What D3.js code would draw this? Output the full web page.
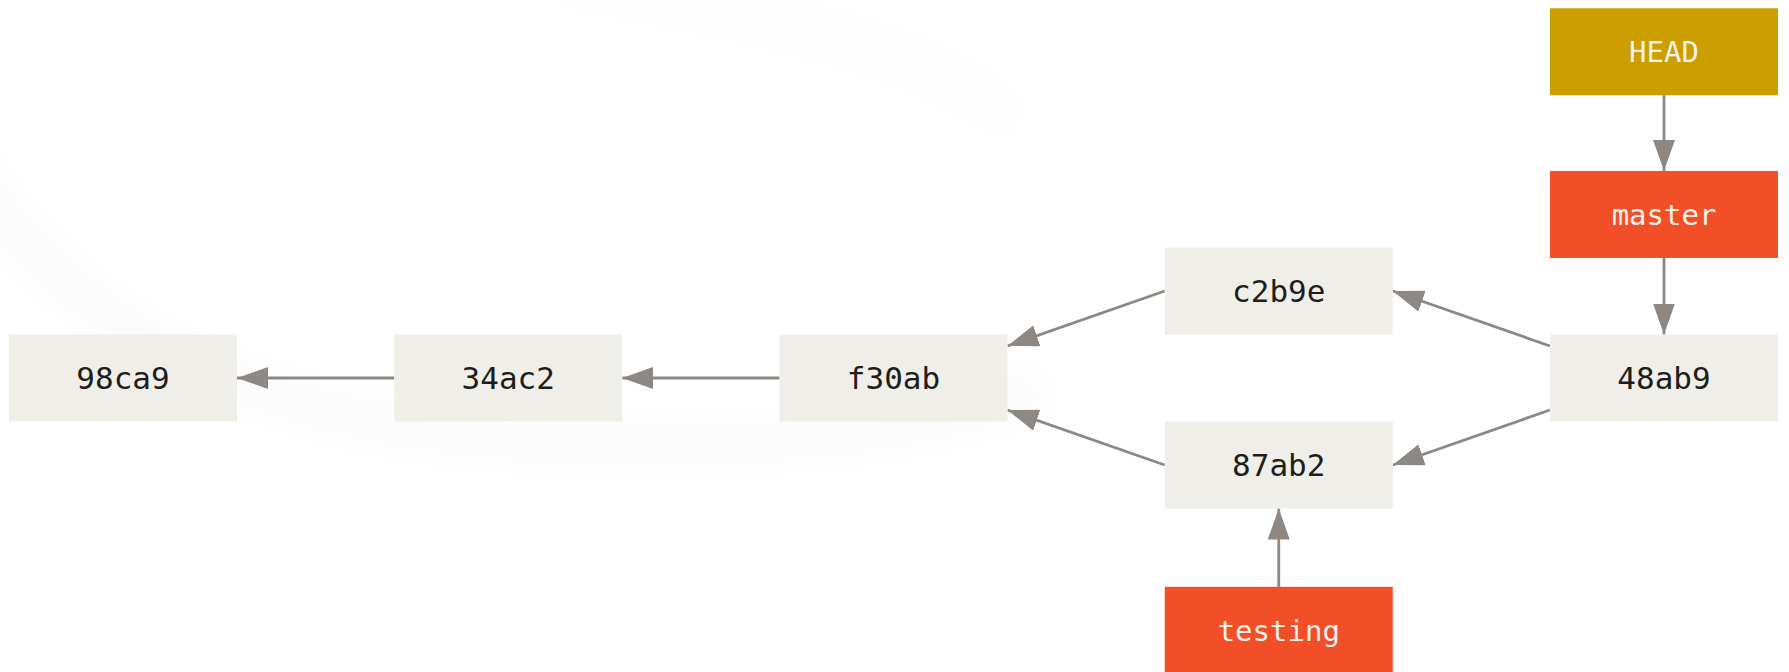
<!DOCTYPE html>
<html>
<head>
<meta charset="utf-8">
<script src="https://cdn.jsdelivr.net/npm/d3@7"></script>
<style>
  html, body { margin: 0; padding: 0; background: #fff; }
  svg { display: block; }
</style>
</head>
<body>
<svg id="chart" width="1789" height="672"></svg>
<script>
// commits: id, column in the graph, row offset from the main line
const commitIds = ["98ca9", "34ac2", "f30ab", "c2b9e", "87ab2", "48ab9"];
const commitCols = [0, 1, 2, 3, 3, 4];
const commitRows = [0, 0, 0, -1, 1, 0];

// refs pointing into the graph
const refNames = ["HEAD", "master", "testing"];
const refCols = [4, 4, 3];
const refRows = [-3.75, -1.88, 2.9];
const refKinds = ["head", "branch", "branch"];

// child -> parent, ref -> target
const parentLinks = [
    ["34ac2", "98ca9"], ["f30ab", "34ac2"],
    ["c2b9e", "f30ab"], ["87ab2", "f30ab"],
    ["48ab9", "c2b9e"], ["48ab9", "87ab2"]
];
const refLinks = [["HEAD", "master"], ["master", "48ab9"], ["testing", "87ab2"]];

(function() {
    const svg = d3.select("#chart");
    const boxW = 228, boxH = 87, slant = 32;

    const x = d3.scaleLinear().domain([0, 4]).range([123, 1664]);
    const y = d3.scaleLinear().domain([0, 1]).range([378, 465]);

    const fills = { commit: "#efeee8", head: "#cc9e00", branch: "#f24f29" };
    const arrowColor = "#8d8883";

    const nodes = commitIds.map((id, i) => ({ id, col: commitCols[i], row: commitRows[i], kind: "commit" }))
        .concat(refNames.map((id, i) => ({ id, col: refCols[i], row: refRows[i], kind: refKinds[i] })));
    const byId = new Map(nodes.map(d => [d.id, d]));

    // faint watermark swoosh in the background
    const defs = svg.append("defs");
    defs.append("filter").attr("id", "soft")
        .attr("x", "-20%").attr("y", "-20%").attr("width", "140%").attr("height", "140%")
        .append("feGaussianBlur").attr("stdDeviation", 16);

    const swoosh = d3.path();
    swoosh.moveTo(-40, 150);
    swoosh.bezierCurveTo(60, 330, 260, 440, 620, 445);
    swoosh.bezierCurveTo(820, 448, 960, 420, 1040, 390);
    svg.append("path")
        .attr("d", swoosh.toString())
        .attr("fill", "none")
        .attr("stroke", "#000")
        .attr("stroke-opacity", 0.028)
        .attr("stroke-width", 24)
        .attr("filter", "url(#soft)");

    const arc = d3.path();
    arc.moveTo(560, -20);
    arc.bezierCurveTo(800, 20, 950, 60, 1010, 120);
    svg.append("path")
        .attr("d", arc.toString())
        .attr("fill", "none")
        .attr("stroke", "#000")
        .attr("stroke-opacity", 0.012)
        .attr("stroke-width", 28)
        .attr("filter", "url(#soft)");

    defs.append("marker")
        .attr("id", "arrow")
        .attr("markerUnits", "userSpaceOnUse")
        .attr("viewBox", "0 -11 31 22")
        .attr("refX", 31).attr("refY", 0)
        .attr("markerWidth", 31).attr("markerHeight", 22)
        .attr("orient", "auto")
        .append("path")
        .attr("d", "M0,-11L31,0L0,11Z")
        .attr("fill", arrowColor);

    function endpoints(s, t) {
        const sx = x(s.col), sy = y(s.row), tx = x(t.col), ty = y(t.row);
        if (s.col === t.col) {
            const dir = ty > sy ? 1 : -1;
            return [sx, sy + dir * boxH / 2, tx, ty - dir * boxH / 2];
        }
        let y1 = sy, y2 = ty;
        if (s.row === 0 && t.row !== 0) y1 += Math.sign(t.row) * slant;
        if (t.row === 0 && s.row !== 0) y2 += Math.sign(s.row) * slant;
        return [sx - boxW / 2, y1, tx + boxW / 2, y2];
    }

    const links = parentLinks.concat(refLinks).map(([a, b]) => endpoints(byId.get(a), byId.get(b)));

    svg.append("g").selectAll("line")
        .data(links)
        .enter().append("line")
        .attr("x1", d => d[0]).attr("y1", d => d[1])
        .attr("x2", d => d[2]).attr("y2", d => d[3])
        .attr("stroke", arrowColor)
        .attr("stroke-width", 2.8)
        .attr("marker-end", "url(#arrow)");

    const node = svg.append("g").selectAll("g")
        .data(nodes)
        .enter().append("g")
        .attr("transform", d => `translate(${x(d.col)},${y(d.row)})`);

    node.append("rect")
        .attr("x", -boxW / 2).attr("y", -boxH / 2)
        .attr("width", boxW).attr("height", boxH)
        .attr("fill", d => fills[d.kind]);

    node.append("text")
        .attr("text-anchor", "middle")
        .attr("dy", "0.36em")
        .style("font", d => d.kind === "commit"
            ? "31px 'DejaVu Sans Mono', monospace"
            : "29px 'DejaVu Sans Mono', monospace")
        .attr("fill", d => d.kind === "commit" ? "#1d1d1b" : "#f3f1ea")
        .text(d => d.id);
})();
</script>
</body>
</html>
